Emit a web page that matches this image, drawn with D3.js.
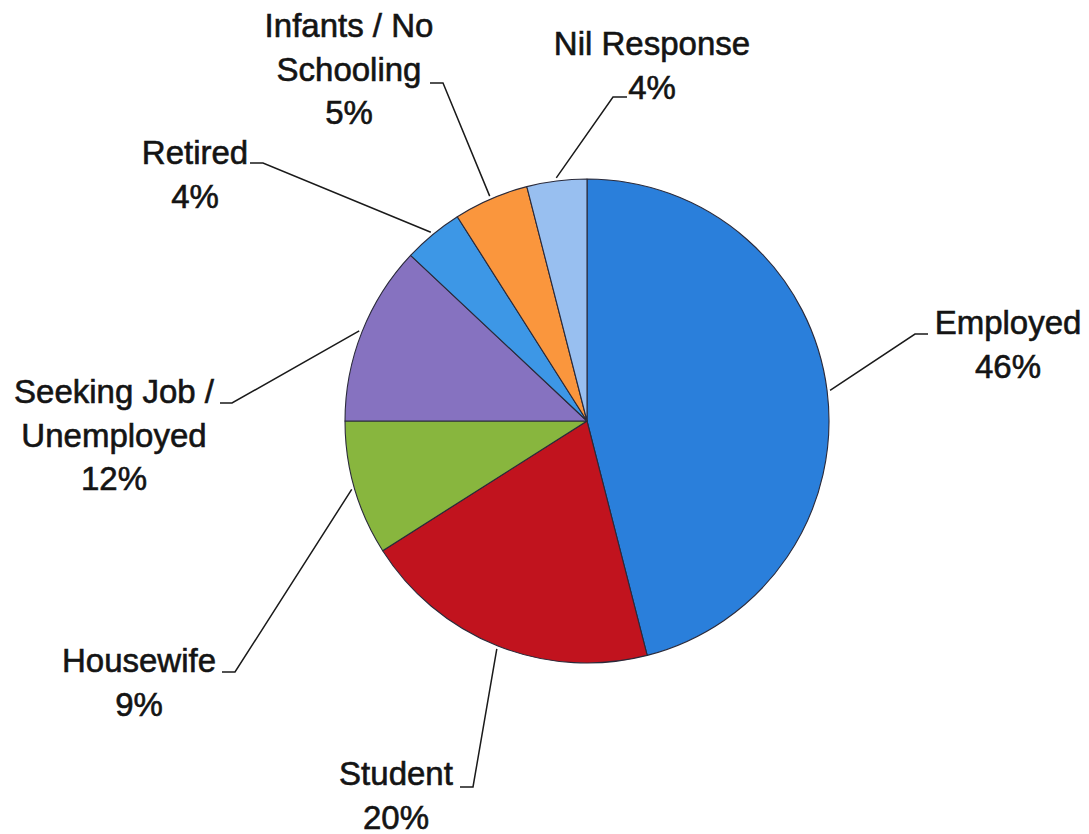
<!DOCTYPE html>
<html>
<head>
<meta charset="utf-8">
<script src="https://cdn.jsdelivr.net/npm/d3@7"></script>
<style>
  html, body { margin: 0; padding: 0; background: #ffffff; }
  svg { display: block; }
  .lbl { font-family: "Liberation Sans", Arial, sans-serif; font-size: 33px; fill: #141414; stroke: #141414; stroke-width: 0.6px; }
</style>
</head>
<body>
<svg id="chart" width="1089" height="834"></svg>
<script>
// Occupation breakdown, percent of respondents (clockwise from 12 o'clock)
const categories = ["Employed", "Student", "Housewife", "Seeking Job / Unemployed", "Retired", "Infants / No Schooling", "Nil Response"];
const shares = [46, 20, 9, 12, 4, 5, 4];
const sliceColors = ["#2a7fdb", "#c1131e", "#88b63e", "#8672c0", "#3d97e6", "#fa963d", "#98bff0"];
// Text rows of each label (name lines followed by the share)
const labelRows = [
  ["Employed"],
  ["Student"],
  ["Housewife"],
  ["Seeking Job /", "Unemployed"],
  ["Retired"],
  ["Infants / No", "Schooling"],
  ["Nil Response"]
];

// Label placement: centre x, first baseline y, leader elbow and leader end
const labelLayout = [
  { x: 1008, y: 334, elbow: [915, 334], end: [928, 334] },
  { x: 396,  y: 785, elbow: [473, 787], end: [460, 787] },
  { x: 139,  y: 672, elbow: [235, 672], end: [222, 672] },
  { x: 114,  y: 403, elbow: [232, 403], end: [220, 403] },
  { x: 195,  y: 164, elbow: [263, 163], end: [250, 163] },
  { x: 349,  y: 37,  elbow: [443, 83],  end: [430, 83] },
  { x: 652,  y: 55,  elbow: [613, 97],  end: [627, 97] }
];

const width = 1089, height = 834;
const cx = 587, cy = 421, radius = 242;
const lineHeight = 43.5;

const svg = d3.select("#chart");
const g = svg.append("g").attr("transform", `translate(${cx},${cy})`);

const pie = d3.pie().sort(null).value(d => d)(shares);
const arc = d3.arc().innerRadius(0).outerRadius(radius);
const edge = d3.arc().innerRadius(radius + 3).outerRadius(radius + 3);

g.selectAll("path.slice")
  .data(pie)
  .join("path")
  .attr("class", "slice")
  .attr("d", arc)
  .attr("fill", (d, i) => sliceColors[i])
  .attr("stroke", "#2a2a3a")
  .attr("stroke-width", 1.1)
  .attr("stroke-linejoin", "round");

// Leader lines: from the rim at the slice's middle angle to the label elbow
const leaders = svg.append("g")
  .attr("fill", "none")
  .attr("stroke", "#1a1a1a")
  .attr("stroke-width", 1.5);

pie.forEach((d, i) => {
  const c = edge.centroid(d);
  const L = labelLayout[i];
  leaders.append("path")
    .attr("d", d3.line()([[cx + c[0], cy + c[1]], L.elbow, L.end]));
});

// Labels
const labels = svg.append("g");
pie.forEach((d, i) => {
  const L = labelLayout[i];
  const rows = labelRows[i].concat([d3.format(".0f")(shares[i]) + "%"]);
  const t = labels.append("text")
    .attr("class", "lbl")
    .attr("text-anchor", "middle");
  rows.forEach((r, k) => {
    t.append("tspan")
      .attr("x", L.x)
      .attr("y", L.y + k * lineHeight)
      .text(r);
  });
});
</script>
</body>
</html>
